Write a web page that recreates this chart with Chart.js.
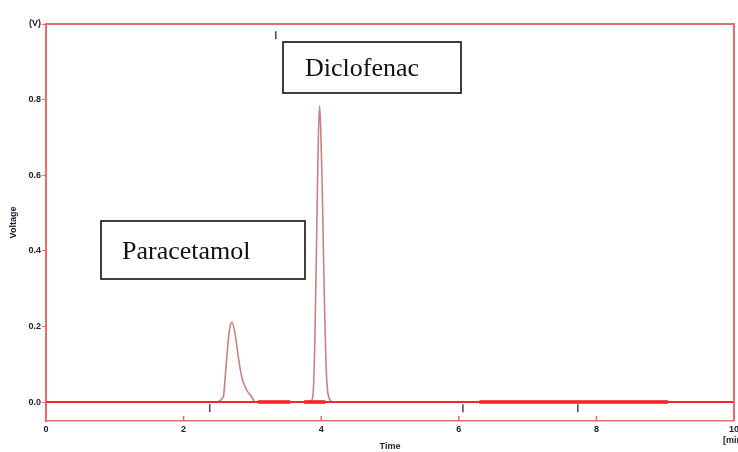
<!DOCTYPE html>
<html>
<head>
<meta charset="utf-8">
<script src="https://cdn.jsdelivr.net/npm/chart.js@4"></script>
<style>
  html, body { margin: 0; padding: 0; background: #fff; }
  #wrap { width: 738px; height: 452px; }
</style>
</head>
<body>
<div id="wrap"><canvas id="myChart"></canvas></div>
<script>
'use strict';

/** @desc Chromatogram trace, time in minutes */
const TIME = [0, 1.0, 2.0, 2.45, 2.577, 2.616, 2.65, 2.674, 2.703, 2.747, 2.795,
  2.844, 2.917, 2.99, 3.04, 3.5, 3.80, 3.86, 3.885, 3.905, 3.925, 3.945, 3.96,
  3.975, 3.99, 4.01, 4.03, 4.05, 4.07, 4.09, 4.12, 4.18, 5.0, 7.0, 10.0];

/** @desc Chromatogram trace, voltage in V */
const VOLTAGE = [0, 0, 0, 0, 0.014, 0.093, 0.164, 0.199, 0.211, 0.182, 0.12,
  0.067, 0.032, 0.014, 0, 0, 0, 0.004, 0.03, 0.14, 0.34, 0.56, 0.71,
  0.782, 0.74, 0.61, 0.42, 0.24, 0.10, 0.035, 0.008, 0, 0, 0, 0];

/** @desc Baseline segments (start, end) in minutes */
const BASELINE = [[0, 10]];
const BASELINE_THICK = [[3.08, 3.55], [3.75, 4.06], [6.3, 9.04]];

/** @desc Integration event markers */
const MARKER_TIME = [2.38, 6.06, 7.73, 3.34];
const MARKER_VOLT = [-0.016, -0.016, -0.016, 0.97];

/** @desc Tick labels */
const X_TICKS = [0, 2, 4, 6, 8, 10];
const Y_TICKS = [0, 0.2, 0.4, 0.6, 0.8, 1.0];

/** @desc Peak labels */
const PEAK_LABELS = ['Diclofenac', 'Paracetamol'];

const AXIS_RED = 'rgb(228, 110, 110)';
const TICK_FONT = { family: 'Arial, "Liberation Sans"', size: 9, weight: 'bold' };

const segments = (list) => {
  const pts = [];
  list.forEach(([a, b]) => {
    pts.push({ x: a, y: 0 }, { x: b, y: 0 }, { x: b, y: null });
  });
  return pts;
};

const DATA = {
  datasets: [
    {
      label: 'baseline',
      data: segments(BASELINE),
      borderColor: 'rgb(240, 40, 40)',
      borderWidth: 2,
      pointRadius: 0,
      spanGaps: false
    },
    {
      label: 'baseline thick',
      data: segments(BASELINE_THICK),
      borderColor: 'rgb(250, 20, 20)',
      borderWidth: 3.5,
      pointRadius: 0,
      spanGaps: false
    },
    {
      label: 'trace',
      data: TIME.map((t, i) => ({ x: t, y: VOLTAGE[i] })),
      borderColor: 'rgba(195, 115, 115, 0.9)',
      borderWidth: 1.6,
      pointRadius: 0,
      cubicInterpolationMode: 'monotone'
    },
    {
      label: 'markers',
      type: 'scatter',
      data: MARKER_TIME.map((t, i) => ({ x: t, y: MARKER_VOLT[i] })),
      pointStyle: 'line',
      rotation: 90,
      pointRadius: 4,
      borderColor: 'rgb(70, 70, 80)',
      borderWidth: 1.5
    }
  ]
};

/** @desc Frame, inner x ticks and peak label boxes */
const EXTRAS = {
  id: 'extras',
  afterDraw(chart) {
    const { ctx, chartArea: a, scales } = chart;
    ctx.save();
    ctx.strokeStyle = AXIS_RED;
    ctx.lineWidth = 2;
    ctx.beginPath();
    ctx.moveTo(a.left, a.top);
    ctx.lineTo(a.right, a.top);
    ctx.lineTo(a.right, a.bottom);
    ctx.stroke();
    ctx.lineWidth = 1.5;
    X_TICKS.forEach((v) => {
      const px = scales.x.getPixelForValue(v);
      ctx.beginPath();
      ctx.moveTo(px, a.bottom);
      ctx.lineTo(px, a.bottom - 5);
      ctx.stroke();
    });

    const boxes = [
      { text: PEAK_LABELS[0], x: 283, y: 42, w: 178, h: 51, tx: 305, ty: 76 },
      { text: PEAK_LABELS[1], x: 101, y: 221, w: 204, h: 58, tx: 122, ty: 259 }
    ];
    ctx.font = '26px "Liberation Serif", "Times New Roman", serif';
    ctx.textBaseline = 'alphabetic';
    ctx.textAlign = 'left';
    boxes.forEach((b) => {
      ctx.fillStyle = '#fff';
      ctx.fillRect(b.x, b.y, b.w, b.h);
      ctx.strokeStyle = '#111';
      ctx.lineWidth = 1.6;
      ctx.strokeRect(b.x, b.y, b.w, b.h);
      ctx.fillStyle = '#111';
      ctx.fillText(b.text, b.tx, b.ty);
    });
    ctx.restore();
  }
};

const OPTIONS = {
  responsive: true,
  maintainAspectRatio: false,
  animation: false,
  layout: { autoPadding: false, padding: { top: 24, right: 4, left: 0, bottom: 0 } },
  plugins: { legend: { display: false }, tooltip: { enabled: false } },
  scales: {
    x: {
      type: 'linear',
      min: 0,
      max: 10,
      afterBuildTicks: (s) => { s.ticks = X_TICKS.map((v) => ({ value: v })); },
      afterFit: (s) => { s.height = 31; s.paddingLeft = 0; s.paddingRight = 0; },
      grid: { display: false, drawTicks: false },
      border: { color: AXIS_RED, width: 1.5 },
      ticks: {
        padding: 3,
        maxRotation: 0,
        autoSkip: false,
        color: '#1a1a2a',
        font: TICK_FONT,
        callback: (v) => (v === 10 ? ['10', '[min]'] : String(v))
      },
      title: { display: true, text: 'Time', color: '#1a1a2a', font: TICK_FONT, padding: 0 }
    },
    y: {
      min: -0.05,
      max: 1.0,
      afterBuildTicks: (s) => { s.ticks = Y_TICKS.map((v) => ({ value: v })); },
      afterFit: (s) => { s.width = 46; s.paddingTop = 0; s.paddingBottom = 0; },
      grid: { drawOnChartArea: false, drawTicks: true, tickLength: 4, color: AXIS_RED },
      border: { color: AXIS_RED, width: 2 },
      ticks: {
        padding: 1,
        color: '#1a1a2a',
        font: TICK_FONT,
        callback: (v) => (Math.abs(v - 1) < 1e-9 ? '(V)' : v.toFixed(1))
      },
      title: { display: true, text: 'Voltage', color: '#1a1a2a', font: TICK_FONT, padding: { top: 8, bottom: 0 } }
    }
  }
};

const CTX = document.getElementById('myChart').getContext('2d');
const myChart = new Chart(CTX, { type: 'line', data: DATA, options: OPTIONS, plugins: [EXTRAS] });
</script>
</body>
</html>
